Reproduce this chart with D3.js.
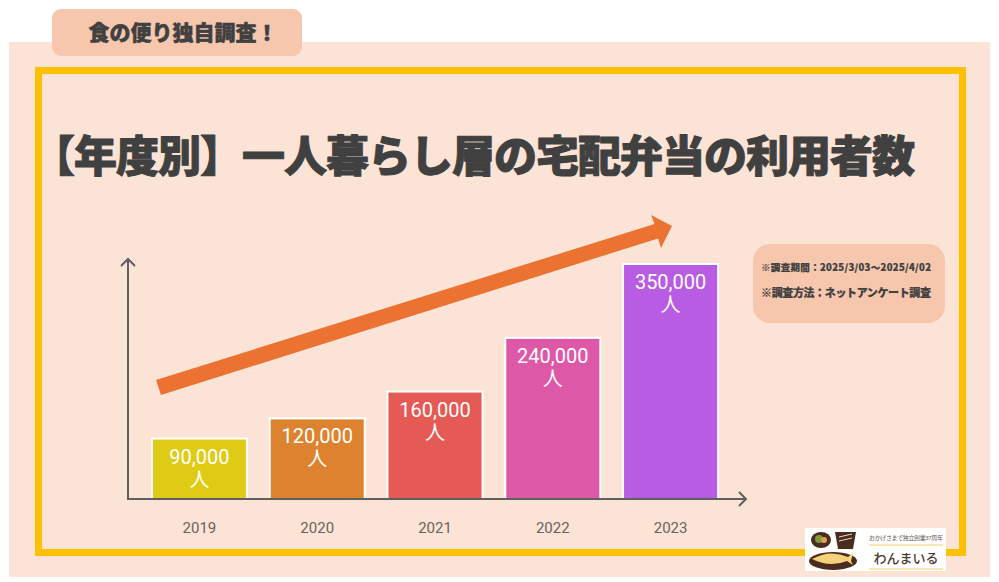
<!DOCTYPE html>
<html>
<head>
<meta charset="utf-8">
<script src="https://cdnjs.cloudflare.com/ajax/libs/d3/7.8.5/d3.min.js"></script>
<style>
html, body { margin: 0; padding: 0; background: #fff; overflow: hidden; }
text { font-family: Roboto, "Noto Sans CJK JP", sans-serif; }
.jp { font-family: "Noto Sans CJK JP", sans-serif; font-weight: 900; fill: #404040; stroke: #404040; stroke-linejoin: round; }
</style>
</head>
<body>
<div id="chart"></div>
<script>
var years = ["2019", "2020", "2021", "2022", "2023"];
var users = [90000, 120000, 160000, 240000, 350000];
var barColors = ["#dfcb15", "#dd8330", "#e55a54", "#dd59a8", "#b85ce3"];
var notes = ["※調査期間：2025/3/03～2025/4/02", "※調査方法：ネットアンケート調査"];

var w = 999, h = 582;
var svg = d3.select("#chart").append("svg")
    .attr("width", w)
    .attr("height", h)
    .style("display", "block");

// background panel and frame
svg.append("rect").attr("x", 9).attr("y", 42).attr("width", 981).attr("height", 535).attr("fill", "#fbe3d6");
svg.append("rect").attr("x", 38.5).attr("y", 70.5).attr("width", 924).attr("height", 482)
    .attr("fill", "none").attr("stroke", "#ffc000").attr("stroke-width", 7);

// top badge
svg.append("rect").attr("x", 52).attr("y", 9).attr("width", 250).attr("height", 47).attr("rx", 9).attr("fill", "#f6c6ad");
svg.append("text").attr("class", "jp").attr("x", 183).attr("y", 40)
    .attr("text-anchor", "middle").attr("font-size", 21).attr("stroke-width", 0.5)
    .text("食の便り独自調査！");

// title
svg.append("text").attr("class", "jp").attr("x", 32).attr("y", 172)
    .attr("font-size", 43).attr("stroke-width", 1).attr("textLength", 883)
    .text("【年度別】一人暮らし層の宅配弁当の利用者数");

// scales
var x = d3.scaleBand().domain(years).range([140.5, 729.5]).paddingInner(0.193).paddingOuter(0.0965);
var y = d3.scaleLinear().domain([0, 350000]).range([499, 264]);

// big trend arrow
var arrow = d3.line();
svg.append("path")
    .attr("d", arrow([[156, 380], [654.5, 224], [651, 215], [672, 226], [661, 248], [658, 238.5], [161, 395]]) + "Z")
    .attr("fill", "#ec7232");

// bars
svg.selectAll(".bar").data(users).enter().append("rect")
    .attr("class", "bar")
    .attr("x", function(d, i) { return x(years[i]); })
    .attr("y", function(d) { return y(d); })
    .attr("width", x.bandwidth())
    .attr("height", function(d) { return y(0) - y(d); })
    .attr("fill", function(d, i) { return barColors[i]; })
    .attr("stroke", "#fff")
    .attr("stroke-width", 2);

// value labels
var labels = svg.selectAll(".val").data(users).enter().append("text")
    .attr("class", "val")
    .attr("text-anchor", "middle")
    .attr("fill", "#fff")
    .attr("font-size", 20);
labels.append("tspan")
    .attr("x", function(d, i) { return x(years[i]) + x.bandwidth() / 2; })
    .attr("y", function(d) { return y(d) + 25; })
    .text(function(d) { return d3.format(",")(d); });
labels.append("tspan")
    .attr("x", function(d, i) { return x(years[i]) + x.bandwidth() / 2; })
    .attr("y", function(d) { return y(d) + 48; })
    .text("人");

// axes
var xAxis = svg.append("g")
    .attr("transform", "translate(0," + y(0) + ")")
    .call(d3.axisBottom(x).tickSize(0).tickPadding(23));
xAxis.select(".domain").remove();
xAxis.selectAll("text").attr("font-size", 15).attr("fill", "#6b625c").attr("font-family", "Roboto");

var axisLines = svg.append("g").attr("fill", "none").attr("stroke", "#5f5f5f").attr("stroke-width", 2);
axisLines.append("path").attr("d", arrow([[128, 259], [128, 499], [746, 499]]));
axisLines.append("path").attr("d", arrow([[121, 266], [128, 259], [135, 266]]));
axisLines.append("path").attr("d", arrow([[739, 492], [746, 499], [739, 506]]));

// survey note box
svg.append("rect").attr("x", 753).attr("y", 244).attr("width", 192).attr("height", 79).attr("rx", 17).attr("fill", "#f6c6ad");
svg.append("text").attr("class", "jp").attr("x", 761).attr("y", 271)
    .attr("font-size", 9.5).attr("stroke-width", 0.2).attr("textLength", 170).text(notes[0]);
svg.append("text").attr("class", "jp").attr("x", 761).attr("y", 297)
    .attr("font-size", 11).attr("stroke-width", 0.2).attr("textLength", 170).text(notes[1]);

// logo
var logo = svg.append("g");
logo.append("rect").attr("x", 805).attr("y", 528).attr("width", 141).attr("height", 43).attr("fill", "#fff");
logo.append("ellipse").attr("cx", 821).attr("cy", 540).attr("rx", 10).attr("ry", 8).attr("fill", "#4a2c20");
logo.append("circle").attr("cx", 819).attr("cy", 539).attr("r", 4).attr("fill", "#7f9a3c");
logo.append("circle").attr("cx", 824).attr("cy", 540).attr("r", 3).attr("fill", "#e0a050");
logo.append("path").attr("d", "M835,532L856,532L853,549L838,549Z").attr("fill", "#4a2c20");
logo.append("path").attr("d", "M839,537L852,534M839,541L852,538").attr("stroke", "#e8d8c8").attr("stroke-width", 1).attr("fill", "none");
logo.append("ellipse").attr("cx", 833).attr("cy", 561).attr("rx", 24).attr("ry", 9).attr("fill", "#4a2c20");
logo.append("path").attr("d", "M812,559Q830,549 848,557L853,553L851,561L853,565L847,561Q830,568 812,559Z").attr("fill", "#f5d27a");
logo.append("text").attr("x", 869).attr("y", 540).attr("textLength", 74)
    .attr("font-size", 6).attr("fill", "#6b5a50").attr("font-family", "Noto Sans CJK JP").text("おかげさまで独立創業37周年");
logo.append("path").attr("d", "M869,545H943M869,569H943").attr("stroke", "#f8dfa0").attr("stroke-width", 1.5);
logo.append("text").attr("x", 906).attr("y", 563).attr("text-anchor", "middle")
    .attr("font-size", 13).attr("fill", "#4a3a30").attr("font-family", "Noto Sans CJK JP").attr("font-weight", 500).text("わんまいる");
</script>
</body>
</html>
